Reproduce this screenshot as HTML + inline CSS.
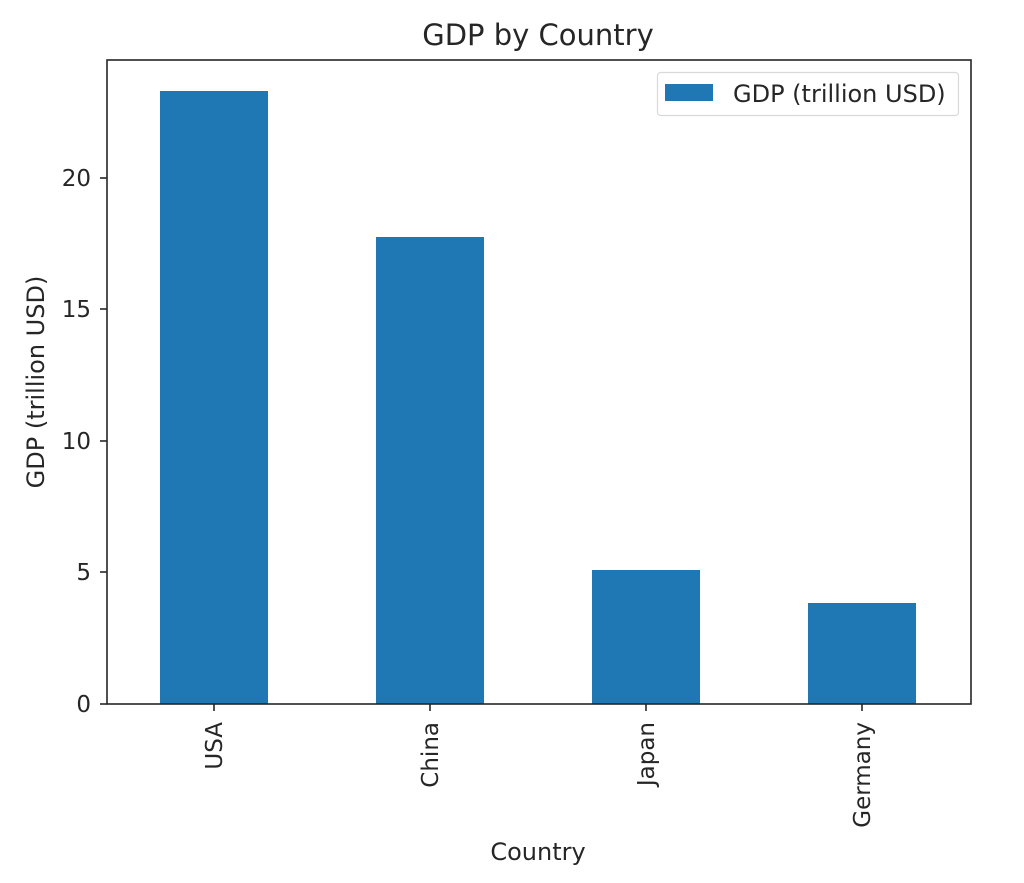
<!DOCTYPE html>
<html><head><style>body{margin:0;background:#fff}svg text{font-family:"DejaVu Sans",sans-serif;fill:#262626}</style></head><body>
<svg width="1024" height="878" xmlns="http://www.w3.org/2000/svg">
<rect width="1024" height="878" fill="#fff"/>
<text x="538" y="45" font-size="29" text-anchor="middle">GDP by Country</text>
<g fill="#1f77b4">
<rect x="160" y="91" width="108" height="613"/>
<rect x="376" y="237" width="108" height="467"/>
<rect x="592" y="570" width="108" height="134"/>
<rect x="808" y="603" width="108" height="101"/>
</g>
<rect x="107" y="60" width="864" height="644" fill="none" stroke="#262626" stroke-width="1.6"/>
<g stroke="#262626" stroke-width="1.6">
<line x1="100" y1="704" x2="107" y2="704"/><line x1="100" y1="572" x2="107" y2="572"/><line x1="100" y1="441" x2="107" y2="441"/><line x1="100" y1="309" x2="107" y2="309"/><line x1="100" y1="178" x2="107" y2="178"/>
<line x1="214" y1="704" x2="214" y2="711"/><line x1="430" y1="704" x2="430" y2="711"/><line x1="646" y1="704" x2="646" y2="711"/><line x1="862" y1="704" x2="862" y2="711"/>
</g>
<g font-size="23" text-anchor="end">
<text x="91" y="712">0</text><text x="91" y="580">5</text><text x="91" y="449">10</text><text x="91" y="317">15</text><text x="91" y="186">20</text>
</g>
<g font-size="23" text-anchor="end">
<text transform="translate(222,722) rotate(-90)">USA</text>
<text transform="translate(438,722) rotate(-90)">China</text>
<text transform="translate(654,722) rotate(-90)">Japan</text>
<text transform="translate(870,722) rotate(-90)">Germany</text>
</g>
<text x="538" y="860" font-size="24" text-anchor="middle">Country</text>
<text transform="translate(44,382) rotate(-90)" font-size="24" text-anchor="middle">GDP (trillion USD)</text>
<rect x="657.5" y="72.5" width="301" height="43" rx="3" fill="#fff" stroke="#d9d9d9" stroke-width="1.2"/>
<rect x="665" y="84" width="48" height="17" fill="#1f77b4"/>
<text x="733" y="102" font-size="24">GDP (trillion USD)</text>
</svg>
</body></html>
